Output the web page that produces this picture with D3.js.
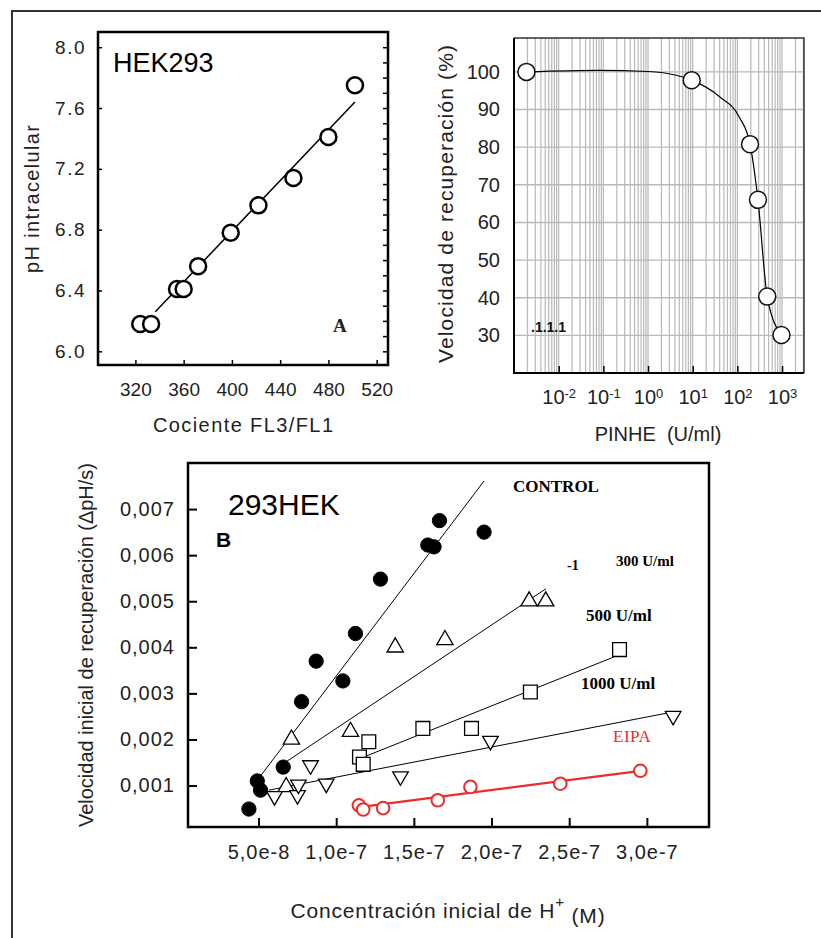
<!DOCTYPE html>
<html>
<head>
<meta charset="utf-8">
<script src="https://cdn.jsdelivr.net/npm/d3@7"></script>
<style>
  body { margin: 0; background: #fff; }
  svg { display: block; }
  text { font-family: "Liberation Sans", Arial, sans-serif; }
  .serif { font-family: "Liberation Serif", "Times New Roman", serif; }
</style>
</head>
<body>
<div id="main-canvas"></div>
<script>
// ---------- DATA ----------

// Panel A: calibration pH vs FL3/FL1
const ratioA = [324, 333, 354.5, 360, 372, 399, 422, 451, 480, 502];
const phA = [6.18, 6.18, 6.41, 6.41, 6.56, 6.78, 6.96, 7.14, 7.41, 7.75];
const fitA = [[336.5, 6.26], [502, 7.64]];
const phTicks = [6.0, 6.4, 6.8, 7.2, 7.6, 8.0];
const ratioTicks = [320, 360, 400, 440, 480, 520];

// Top right: recovery vs PINHE (log)
const pinhe = [0.0019, 9.5, 192, 289, 466, 970];
const recup = [100, 97.8, 80.8, 66.0, 40.3, 30.1];
const curveX = [0.0019, 0.08, 1, 4.3, 9.5, 40, 110, 192, 289, 466, 970];
const curveY = [100, 100.4, 100.1, 99.1, 97.8, 93.4, 88, 80.8, 66, 40.3, 30.1];
const pinheTicks = [0.01, 0.1, 1, 10, 100, 1000];
const recupTicks = [30, 40, 50, 60, 70, 80, 90, 100];

// Panel B: initial velocity vs [H+]
const hControl = [4.38e-8, 4.92e-8, 5.13e-8, 6.59e-8, 7.77e-8, 8.71e-8, 10.43e-8, 11.24e-8, 12.85e-8, 15.9e-8, 16.3e-8, 16.65e-8, 19.52e-8];
const vControl = [0.00049, 0.00110, 0.00090, 0.00140, 0.00282, 0.00370, 0.00327, 0.00430, 0.00548, 0.00622, 0.00618, 0.00675, 0.00650];
const h300 = [6.78e-8, 7.12e-8, 10.92e-8, 13.8e-8, 17.0e-8, 22.42e-8, 23.49e-8];
const v300 = [0.00097, 0.00200, 0.00217, 0.00400, 0.00416, 0.00500, 0.00500];
const h500 = [11.50e-8, 11.74e-8, 12.10e-8, 15.58e-8, 18.71e-8, 22.50e-8, 28.24e-8];
const v500 = [0.00162, 0.00146, 0.00195, 0.00224, 0.00224, 0.00303, 0.00395];
const h1000 = [6.03e-8, 7.51e-8, 7.57e-8, 8.35e-8, 9.36e-8, 14.14e-8, 19.93e-8, 31.69e-8];
const v1000 = [0.00077, 0.00079, 0.00102, 0.00144, 0.00104, 0.00120, 0.00197, 0.00251];
const hEipa = [11.46e-8, 11.74e-8, 13.02e-8, 16.54e-8, 18.64e-8, 24.43e-8, 29.58e-8];
const vEipa = [0.00057, 0.00048, 0.00051, 0.00068, 0.00097, 0.00104, 0.00132];

const fitControl = [[5.0e-8, 0.00115], [19.52e-8, 0.00761]];
const fit300 = [[6.8e-8, 0.00152], [23.5e-8, 0.00527]];
const fit500 = [[11.56e-8, 0.00159], [27.95e-8, 0.00380]];
const fit1000 = [[5.67e-8, 0.00090], [31.73e-8, 0.00260]];
const fitEipa = [[11.5e-8, 0.00053], [29.6e-8, 0.00132]];
const velTicks = [0.001, 0.002, 0.003, 0.004, 0.005, 0.006, 0.007];
const hTicks = [5e-8, 1e-7, 1.5e-7, 2e-7, 2.5e-7, 3e-7];

const red = "#ee2a2a";
const ink = "#222";

// ---------- SET UP ----------
let width = 821, height = 938;
let svg = d3.select("#main-canvas").append("svg")
    .attr("width", width)
    .attr("height", height);

// outer frame (only top and left edges show)
svg.append("path")
    .attr("d", "M12,938V11H821")
    .attr("fill", "none").attr("stroke", "#333").attr("stroke-width", 2);

const zip = (a, b) => a.map((d, i) => [d, b[i]]);

// ============ PANEL A ============
const boxA = { left: 98, top: 32, right: 388, bottom: 365 };
const xA = d3.scaleLinear().domain([289, 529.4]).range([boxA.left, boxA.right]);
const yA = d3.scaleLinear().domain([5.91, 8.10]).range([boxA.bottom, boxA.top]);
let gA = svg.append("g");

gA.append("g")
    .attr("transform", `translate(${boxA.left},0)`)
    .call(d3.axisLeft(yA).tickValues(phTicks).tickSize(-4).tickPadding(12).tickFormat(d3.format(".1f")))
    .call(g => g.select(".domain").remove())
    .call(g => g.selectAll("text").attr("font-size", 19).attr("letter-spacing", 1.5).attr("fill", ink));
gA.append("g")
    .attr("transform", `translate(${boxA.right},0)`)
    .call(d3.axisRight(yA).tickValues(d3.range(60, 81).map(d => d / 10)).tickSize(-5).tickFormat(""))
    .call(g => g.select(".domain").remove());
gA.append("g")
    .attr("transform", `translate(0,${boxA.bottom})`)
    .call(d3.axisBottom(xA).tickValues(ratioTicks).tickSize(-5).tickPadding(18))
    .call(g => g.select(".domain").remove())
    .call(g => g.selectAll("text").attr("font-size", 19).attr("fill", ink));
gA.selectAll(".tick line").attr("stroke", "#000").attr("stroke-width", 1.5);

gA.append("rect")
    .attr("x", boxA.left).attr("y", boxA.top)
    .attr("width", boxA.right - boxA.left).attr("height", boxA.bottom - boxA.top)
    .attr("fill", "none").attr("stroke", "#000").attr("stroke-width", 2.5);

gA.append("path")
    .attr("d", d3.line().x(d => xA(d[0])).y(d => yA(d[1]))(fitA))
    .attr("stroke", "#000").attr("stroke-width", 1.5).attr("fill", "none");

gA.selectAll("circle")
    .data(zip(ratioA, phA))
    .enter().append("circle")
    .attr("cx", d => xA(d[0])).attr("cy", d => yA(d[1]))
    .attr("r", 8).attr("fill", "#fff").attr("stroke", "#000").attr("stroke-width", 2.5);

gA.append("text").attr("x", 113).attr("y", 72).attr("font-size", 27).attr("fill", "#000").text("HEK293");
gA.append("text").attr("class", "serif").attr("x", 333).attr("y", 332)
    .attr("font-size", 19).attr("font-weight", "bold").attr("fill", ink).text("A");
gA.append("text")
    .attr("transform", "translate(39,199) rotate(-90)")
    .attr("text-anchor", "middle").attr("font-size", 20).attr("fill", ink)
    .attr("textLength", 148).attr("lengthAdjust", "spacing")
    .text("pH intracelular");
gA.append("text")
    .attr("x", 243).attr("y", 432).attr("text-anchor", "middle").attr("font-size", 20).attr("fill", ink)
    .attr("textLength", 180).attr("lengthAdjust", "spacing")
    .text("Cociente FL3/FL1");

// ============ PANEL TOP RIGHT ============
const boxC = { left: 514, top: 38, right: 804, bottom: 373 };
const xC = d3.scaleLog().domain([0.001, 3100]).range([boxC.left, boxC.right]);
const yC = d3.scaleLinear().domain([20, 109]).range([boxC.bottom, boxC.top]);
let gC = svg.append("g");

// grid
gC.append("g").selectAll("line")
    .data(xC.ticks().filter(d => d > 0.001))
    .enter().append("line")
    .attr("x1", d => xC(d)).attr("x2", d => xC(d))
    .attr("y1", boxC.top).attr("y2", boxC.bottom)
    .attr("stroke", "#b9b9b9").attr("stroke-width", 1.2);
gC.append("g").selectAll("line")
    .data(recupTicks)
    .enter().append("line")
    .attr("x1", boxC.left).attr("x2", boxC.right)
    .attr("y1", d => yC(d)).attr("y2", d => yC(d))
    .attr("stroke", "#b9b9b9").attr("stroke-width", 1.4);

gC.append("g")
    .attr("transform", `translate(${boxC.left},0)`)
    .call(d3.axisLeft(yC).tickValues(recupTicks).tickSize(0).tickPadding(14))
    .call(g => g.select(".domain").remove())
    .call(g => g.selectAll("text").attr("font-size", 20).attr("fill", ink));
gC.append("g")
    .attr("transform", `translate(0,${boxC.bottom})`)
    .call(d3.axisBottom(xC).tickValues(pinheTicks).tickSize(-7).tickPadding(17).tickFormat(""))
    .call(g => g.select(".domain").remove())
    .call(g => g.selectAll(".tick line").attr("stroke", "#000").attr("stroke-width", 1.5))
    .call(g => g.selectAll(".tick text").each(function(d) {
        let t = d3.select(this).attr("font-size", 20).attr("fill", ink);
        t.append("tspan").text("10");
        t.append("tspan").attr("dy", "-0.45em").attr("font-size", 13)
            .text(Math.round(Math.log10(d)));
    }));

// frame: left & bottom heavier
gC.append("path")
    .attr("d", `M${boxC.left},${boxC.top}H${boxC.right}V${boxC.bottom}`)
    .attr("fill", "none").attr("stroke", "#333").attr("stroke-width", 1.5);
gC.append("path")
    .attr("d", `M${boxC.left},${boxC.top}V${boxC.bottom}H${boxC.right}`)
    .attr("fill", "none").attr("stroke", "#000").attr("stroke-width", 2);

gC.append("path")
    .attr("d", d3.line().x(d => xC(d[0])).y(d => yC(d[1])).curve(d3.curveMonotoneX)(zip(curveX, curveY)))
    .attr("fill", "none").attr("stroke", "#000").attr("stroke-width", 1.2);

gC.selectAll("circle.pt")
    .data(zip(pinhe, recup))
    .enter().append("circle")
    .attr("class", "pt")
    .attr("cx", d => xC(d[0])).attr("cy", d => yC(d[1]))
    .attr("r", 8.5).attr("fill", "#fff").attr("stroke", "#111").attr("stroke-width", 1.5);

gC.append("text").attr("x", 531).attr("y", 332).attr("font-size", 14).attr("font-weight", "bold")
    .attr("fill", "#111").text(".1.1.1");
gC.append("text")
    .attr("transform", "translate(453,204) rotate(-90)")
    .attr("text-anchor", "middle").attr("font-size", 21).attr("fill", ink)
    .attr("textLength", 318).attr("lengthAdjust", "spacing")
    .text("Velocidad de recuperación (%)");
gC.append("text")
    .attr("x", 658).attr("y", 441).attr("text-anchor", "middle").attr("font-size", 20).attr("fill", ink)
    .attr("xml:space", "preserve")
    .text("PINHE  (U/ml)");

// ============ PANEL B ============
const boxB = { left: 188, top: 463, right: 709, bottom: 827 };
const xB = d3.scaleLinear().domain([4.6e-9, 3.4e-7]).range([boxB.left, boxB.right]);
const yB = d3.scaleLinear().domain([0.0001, 0.008]).range([boxB.bottom, boxB.top]);
let gB = svg.append("g");

gB.append("g")
    .attr("transform", `translate(${boxB.left},0)`)
    .call(d3.axisLeft(yB).tickValues(velTicks).tickSize(-9).tickPadding(13)
        .tickFormat(d => d3.format(".3f")(d).replace(".", ",")))
    .call(g => g.select(".domain").remove())
    .call(g => g.selectAll("text").attr("font-size", 20).attr("letter-spacing", 1).attr("fill", ink));
gB.append("g")
    .attr("transform", `translate(0,${boxB.bottom})`)
    .call(d3.axisBottom(xB).tickValues(hTicks).tickSize(-9).tickPadding(18)
        .tickFormat(d => d3.format(".1e")(d).replace(".", ",")))
    .call(g => g.select(".domain").remove())
    .call(g => g.selectAll("text").attr("font-size", 20).attr("letter-spacing", 1).attr("fill", ink));
gB.selectAll(".tick line").attr("stroke", "#000").attr("stroke-width", 2);

gB.append("rect")
    .attr("x", boxB.left).attr("y", boxB.top)
    .attr("width", boxB.right - boxB.left).attr("height", boxB.bottom - boxB.top)
    .attr("fill", "none").attr("stroke", "#000").attr("stroke-width", 2.5);

// regression lines
const lineB = d3.line().x(d => xB(d[0])).y(d => yB(d[1]));
[fitControl, fit300, fit500, fit1000].forEach(f => {
    gB.append("path").attr("d", lineB(f))
        .attr("fill", "none").attr("stroke", "#000").attr("stroke-width", 1);
});
gB.append("path").attr("d", lineB(fitEipa))
    .attr("fill", "none").attr("stroke", red).attr("stroke-width", 2.2);

// markers
function markers(xs, ys, type, size, rot, fill, stroke, sw) {
    gB.append("g").selectAll("path")
        .data(zip(xs, ys))
        .enter().append("path")
        .attr("d", d3.symbol().type(type).size(size)())
        .attr("transform", d => `translate(${xB(d[0])},${yB(d[1])}) rotate(${rot})`)
        .attr("fill", fill).attr("stroke", stroke).attr("stroke-width", sw);
}
markers(hControl, vControl, d3.symbolCircle, 160, 0, "#000", "#000", 1);
markers(h300, v300, d3.symbolTriangle, 115, 0, "#fff", "#000", 1.3);
markers(h500, v500, d3.symbolSquare, 190, 0, "#fff", "#000", 1.3);
markers(h1000, v1000, d3.symbolTriangle, 105, 180, "#fff", "#000", 1.3);

gB.append("g").selectAll("circle")
    .data(zip(hEipa, vEipa))
    .enter().append("circle")
    .attr("cx", d => xB(d[0])).attr("cy", d => yB(d[1]))
    .attr("r", 6.3).attr("fill", "#fff").attr("stroke", red).attr("stroke-width", 2);

// labels
gB.append("text").attr("x", 228).attr("y", 514.5).attr("font-size", 30).attr("fill", "#000").text("293HEK");
gB.append("text").attr("x", 216).attr("y", 546.5).attr("font-size", 21).attr("font-weight", "bold")
    .attr("fill", "#000").text("B");
const serifLabel = (x, y, size, txt, color, weight) => gB.append("text")
    .attr("class", "serif").attr("x", x).attr("y", y).attr("font-size", size)
    .attr("font-weight", weight || "bold").attr("fill", color || "#000").text(txt);
serifLabel(513, 491.5, 17, "CONTROL");
serifLabel(567, 569.5, 14, "-1");
serifLabel(616, 566, 15, "300 U/ml");
serifLabel(586, 621, 17, "500 U/ml");
serifLabel(581, 689, 17, "1000 U/ml");
serifLabel(613, 741.5, 17, "EIPA", red, "normal").attr("letter-spacing", 0.5);

gB.append("text")
    .attr("transform", "translate(93,645) rotate(-90)")
    .attr("text-anchor", "middle").attr("font-size", 20).attr("fill", ink)
    .attr("textLength", 364).attr("lengthAdjust", "spacing")
    .text("Velocidad inicial de recuperación (ΔpH/s)");
let xt = gB.append("text")
    .attr("x", 448).attr("y", 918).attr("text-anchor", "middle").attr("font-size", 21).attr("fill", ink)
    .attr("letter-spacing", 0.8);
xt.append("tspan").text("Concentración inicial de H");
xt.append("tspan").attr("dy", "-0.75em").attr("font-size", 15).text("+");
xt.append("tspan").attr("dy", "0.75em").text(" (M)");
</script>
</body>
</html>
